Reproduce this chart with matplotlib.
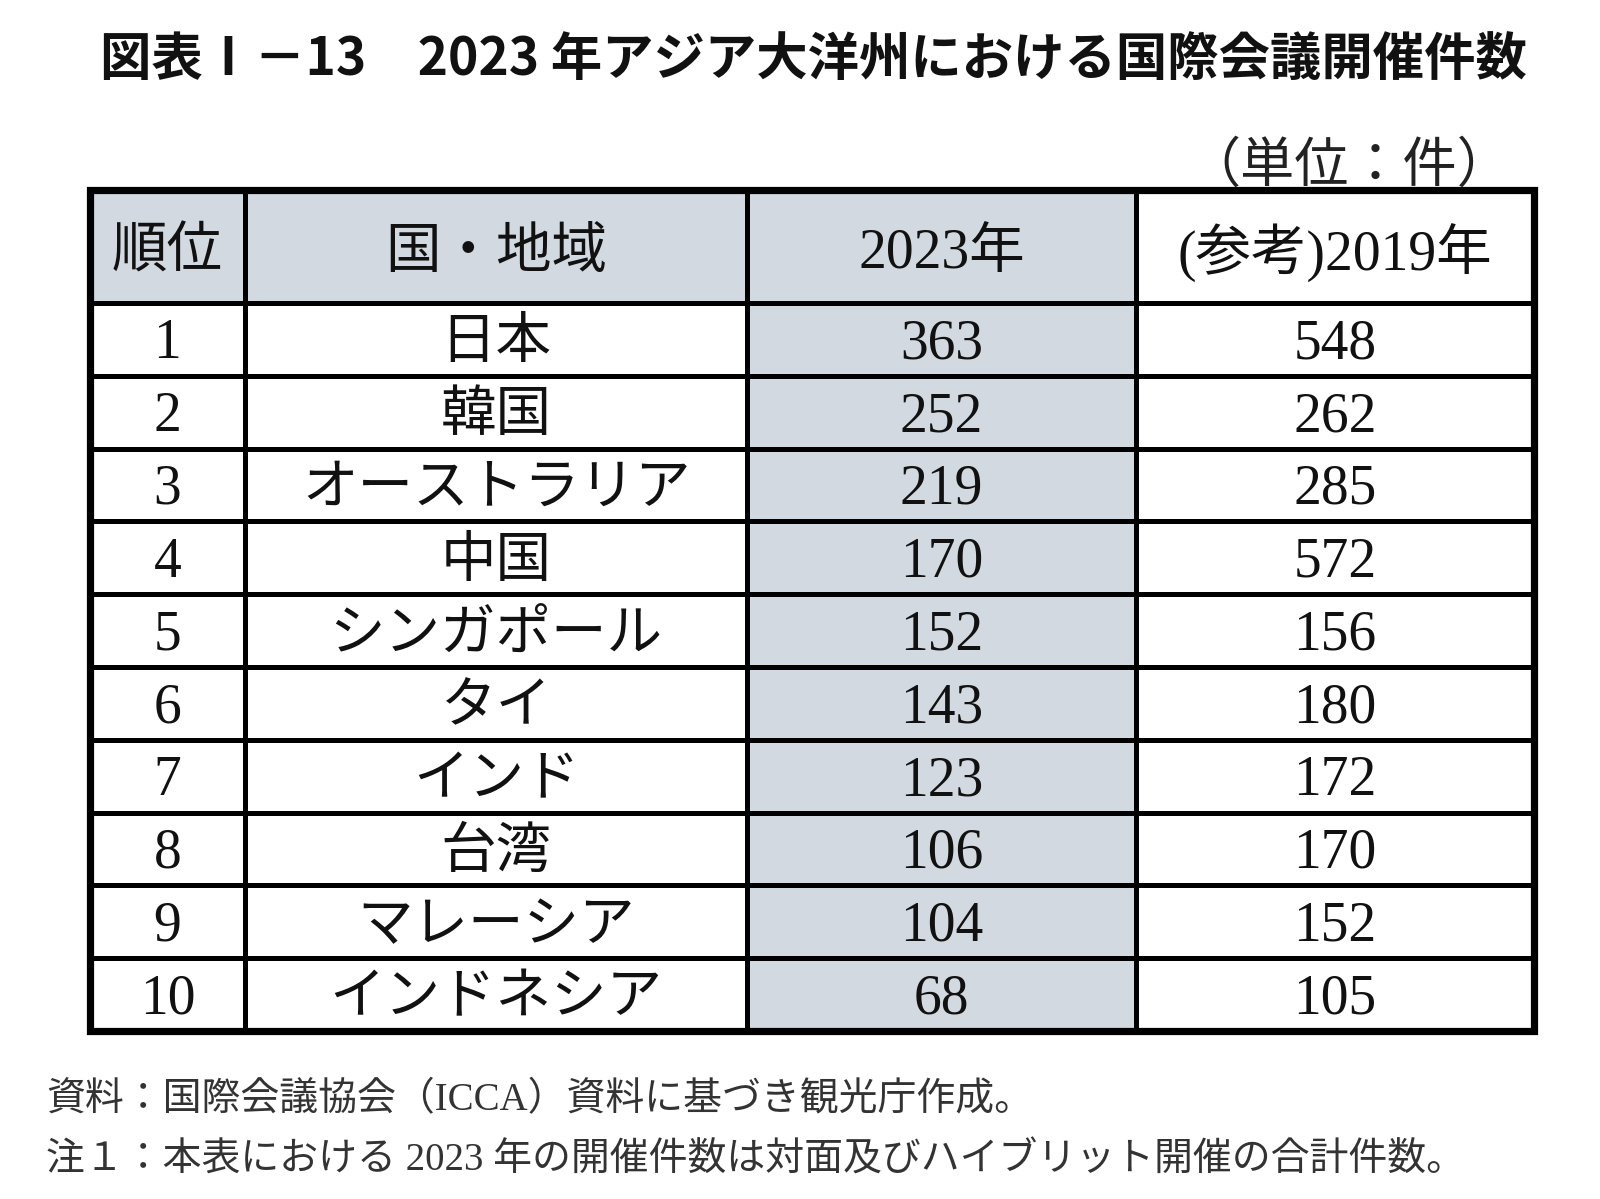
import matplotlib
matplotlib.use("Agg")
import matplotlib.pyplot as plt
from matplotlib.patches import Rectangle

# ---------------- data ----------------
title = "図表Ⅰ－13　2023 年アジア大洋州における国際会議開催件数"
unit_label = "（単位：件）"
headers = ["順位", "国・地域", "2023年", "(参考)2019年"]
ranks = [1, 2, 3, 4, 5, 6, 7, 8, 9, 10]
regions = ["日本", "韓国", "オーストラリア", "中国", "シンガポール",
           "タイ", "インド", "台湾", "マレーシア", "インドネシア"]
count_2023 = [363, 252, 219, 170, 152, 143, 123, 106, 104, 68]
count_2019 = [548, 262, 285, 572, 156, 180, 172, 170, 152, 105]
notes = ["資料：国際会議協会（ICCA）資料に基づき観光庁作成。",
         "注１：本表における 2023 年の開催件数は対面及びハイブリット開催の合計件数。"]

# ---------------- layout (pixel coords) ----------------
W, H = 1600, 1199
col_edges = [90, 245, 747, 1136, 1534]
top, head_bottom, bottom = 190, 303, 1031
row_h = (bottom - head_bottom) / len(ranks)
fill = "#d3d9e0"
cell_font = ["Liberation Serif", "Noto Sans CJK JP"]

fig = plt.figure(figsize=(W / 100, H / 100), dpi=100)
ax = fig.add_axes([0, 0, 1, 1])
ax.set_xlim(0, W)
ax.set_ylim(H, 0)
ax.axis("off")

# title + unit
ax.text(813, 59, title, ha="center", va="center", fontsize=37,
        fontweight="bold", family=["Noto Sans CJK JP"], color="#111111")
ax.text(1349, 168, unit_label, ha="center", va="center", fontsize=39,
        family=cell_font, color="#222222")

# shaded cells: header row (first three columns) and 2023 column
for c in range(3):
    ax.add_patch(Rectangle((col_edges[c], top), col_edges[c + 1] - col_edges[c],
                           head_bottom - top, facecolor=fill, edgecolor="none"))
ax.add_patch(Rectangle((col_edges[2], head_bottom), col_edges[3] - col_edges[2],
                       bottom - head_bottom, facecolor=fill, edgecolor="none"))

# grid lines
for x in col_edges[1:-1]:
    ax.plot([x, x], [top, bottom], color="black", lw=3.6, solid_capstyle="butt")
ys = [head_bottom + i * row_h for i in range(len(ranks))]
for y in ys:
    ax.plot([col_edges[0], col_edges[-1]], [y, y], color="black", lw=3.6,
            solid_capstyle="butt")
ax.add_patch(Rectangle((col_edges[0], top), col_edges[-1] - col_edges[0],
                       bottom - top, facecolor="none", edgecolor="black", lw=5.2))

# header text
centers = [(col_edges[i] + col_edges[i + 1]) / 2 for i in range(4)]
for c, h in enumerate(headers):
    ax.text(centers[c], (top + head_bottom) / 2 + 7, h, ha="center", va="center",
            fontsize=40, family=cell_font, color="#111111")

# body text
for i in range(len(ranks)):
    yc = head_bottom + (i + 0.5) * row_h + 5
    row = [str(ranks[i]), regions[i], str(count_2023[i]), str(count_2019[i])]
    for c, t in enumerate(row):
        ax.text(centers[c], yc, t, ha="center", va="center", fontsize=40,
                family=cell_font, color="#111111")

# notes
ax.text(46, 1101, notes[0], ha="left", va="center", fontsize=28,
        family=cell_font, color="#333333")
ax.text(46, 1161, notes[1], ha="left", va="center", fontsize=28,
        family=cell_font, color="#333333")

plt.savefig("out.png", dpi=100)
